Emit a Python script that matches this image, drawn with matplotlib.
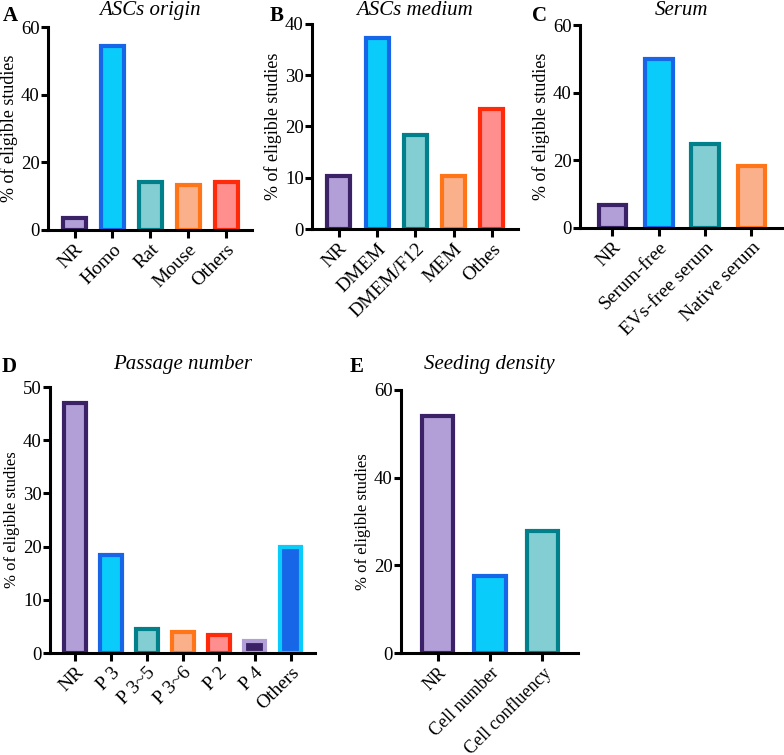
import numpy as np
import matplotlib
matplotlib.use("Agg")
import matplotlib.pyplot as plt

plt.rcParams['font.family'] = ['Liberation Serif', 'DejaVu Serif']

# ---- data ----
origin_cats = ["NR", "Homo", "Rat", "Mouse", "Others"]
origin_vals = [3.4, 54.5, 14.3, 13.2, 14.3]

medium_cats = ["NR", "DMEM", "DMEM/F12", "MEM", "Othes"]
medium_vals = [10.4, 37.3, 18.4, 10.4, 23.5]

serum_cats = ["NR", "Serum-free", "EVs-free serum", "Native serum"]
serum_vals = [6.8, 49.9, 24.7, 18.3]

passage_cats = ["NR", "P 3", "P 3~5", "P 3~6", "P 2", "P 4", "Others"]
passage_vals = [46.9, 18.4, 4.6, 3.9, 3.3, 2.3, 20.0]

seeding_cats = ["NR", "Cell number", "Cell confluency"]
seeding_vals = [54.1, 17.6, 27.9]

# fill / edge colours
PURPLE = ("#b29fd8", "#3b2266")
CYAN = ("#0accfa", "#1766e8")
TEAL = ("#82ced3", "#00808a")
ORANGE = ("#fbb08c", "#ff7518")
RED = ("#ff8f8f", "#ff2a0a")
PURPLE_INV = ("#3b2266", "#b29fd8")
BLUE_INV = ("#1766e8", "#0accfa")

W, H = 784, 755
fig = plt.figure(figsize=(W / 100, H / 100), dpi=100)


def px_axes(left, top, right, bottom):
    return fig.add_axes([left / W, 1 - bottom / H, (right - left) / W, (bottom - top) / H])


def draw(ax, cats, vals, colors, ymax, ystep, xfs=14, yfs=13):
    x = np.arange(len(cats))
    for xi, v, (fc, ec) in zip(x, vals, colors):
        ax.bar(xi, v, width=0.6, color=fc, edgecolor=ec, linewidth=3, zorder=2)
    ax.set_xlim(-0.7, len(cats) - 1 + 0.68)
    ax.set_ylim(0, ymax)
    ax.set_yticks(np.arange(0, ymax + 1, ystep))
    ax.set_xticks(x)
    ax.set_xticklabels(cats, rotation=45, ha='right', rotation_mode='anchor', fontsize=xfs)
    ax.tick_params(axis='y', labelsize=13.5, width=2.2, length=5, pad=1)
    ax.tick_params(axis='x', width=2.2, length=6, pad=2)
    for s in ['top', 'right']:
        ax.spines[s].set_visible(False)
    for s in ['left', 'bottom']:
        ax.spines[s].set_linewidth(2.2)
    ax.set_ylabel("% of eligible studies", fontsize=yfs, labelpad=2)


axA = px_axes(48, 27, 252, 230)
draw(axA, origin_cats, origin_vals, [PURPLE, CYAN, TEAL, ORANGE, RED], 60, 20)

axB = px_axes(312, 24, 518, 229)
draw(axB, medium_cats, medium_vals, [PURPLE, CYAN, TEAL, ORANGE, RED], 40, 10)

axC = px_axes(580, 25, 783, 228)
draw(axC, serum_cats, serum_vals, [PURPLE, CYAN, TEAL, ORANGE], 60, 20)

axD = px_axes(50, 387, 315, 653)
draw(axD, passage_cats, passage_vals,
     [PURPLE, CYAN, TEAL, ORANGE, RED, PURPLE_INV, BLUE_INV], 50, 10, yfs=12)

axE = px_axes(401, 390, 578, 653)
draw(axE, seeding_cats, seeding_vals, [PURPLE, CYAN, TEAL], 60, 20, xfs=13, yfs=12)

# panel titles
for ax, title, yp in [(axA, "ASCs origin", 15), (axB, "ASCs medium", 15), (axC, "Serum", 15),
                      (axD, "Passage number", 369), (axE, "Seeding density", 369)]:
    pos = ax.get_position()
    fig.text(pos.x0 + pos.width / 2, 1 - yp / H, title, fontsize=15, fontstyle='italic',
             ha='center', va='baseline')

for letter, xp, yp in [("A", 3, 21), ("B", 270, 21), ("C", 532, 21), ("D", 2, 372), ("E", 350, 372)]:
    fig.text(xp / W, 1 - yp / H, letter, fontsize=15, fontweight='bold', va='baseline', ha='left')

fig.savefig("out.png", dpi=100)
